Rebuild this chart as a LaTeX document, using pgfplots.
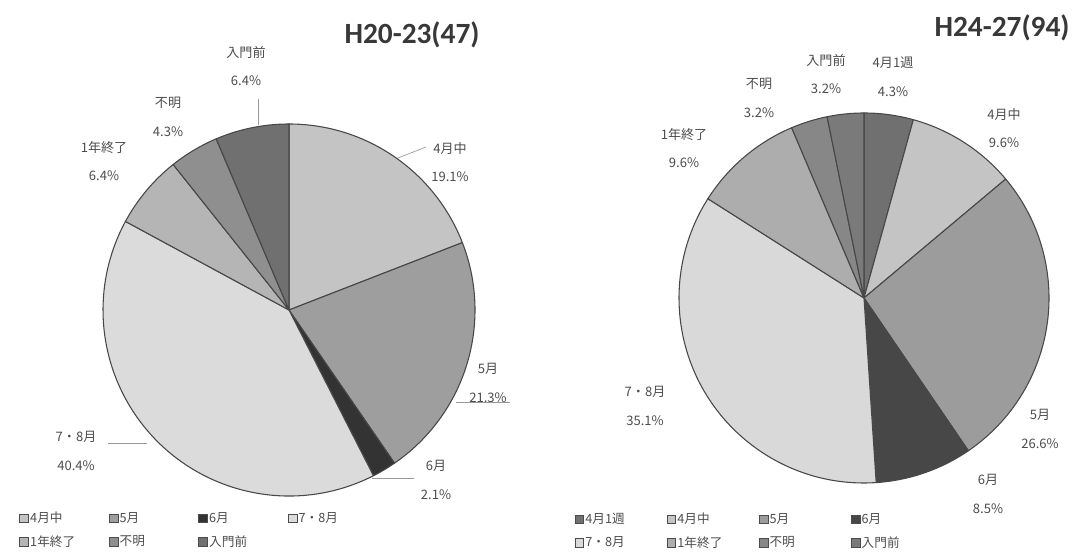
\documentclass[border=0pt]{standalone}
\usepackage{fontspec}
\setmainfont{Noto Sans CJK JP}
\newfontfamily\titlefont{Carlito}
\usepackage{pgfplots}
\usepackage{pgfplotstable}
\pgfplotsset{compat=1.18}

% H20-23 (47): 4月中, 5月, 6月, 7・8月, 1年終了, 不明, 入門前
\pgfplotstableread{
pct shade
19.1 23
21.3 38
2.1 80
40.4 14
6.4 29
4.3 44
6.4 56
}\tblA
% H24-27 (94): 4月1週, 4月中, 5月, 6月, 7・8月, 1年終了, 不明, 入門前
\pgfplotstableread{
pct shade
4.3 56
9.6 23
26.6 39
8.5 72
35.1 15
9.6 32
3.2 47
3.2 52
}\tblB

% #1 table, #2 cx, #3 cy, #4 radius (axis units; 1 unit = 0.75pt)
\newcommand\pieslices[4]{%
  \pgfplotstablegetrowsof{#1}%
  \pgfmathtruncatemacro\pieLast{\pgfplotsretval-1}%
  \def\pieTot{0}%
  \pgfplotsforeachungrouped \pieI in {0,...,\pieLast}{%
    \pgfplotstablegetelem{\pieI}{pct}\of{#1}%
    \pgfmathsetmacro\pieTot{\pieTot+\pgfplotsretval}}%
  \def\pieCum{0}%
  \pgfmathsetmacro\pieR{#4*0.75}%
  \pgfplotsforeachungrouped \pieI in {0,...,\pieLast}{%
    \pgfplotstablegetelem{\pieI}{pct}\of{#1}\let\pieV\pgfplotsretval
    \pgfplotstablegetelem{\pieI}{shade}\of{#1}\let\pieS\pgfplotsretval
    \pgfmathsetmacro\pieA{90-360*(\pieCum/\pieTot)}%
    \pgfmathsetmacro\pieCum{\pieCum+\pieV}%
    \pgfmathsetmacro\pieB{90-360*(\pieCum/\pieTot)}%
    \pgfmathsetmacro\pieX{#2+#4*cos(\pieA)}%
    \pgfmathsetmacro\pieY{#3+#4*sin(\pieA)}%
    \edef\pieTemp{\noexpand\filldraw[fill=black!\pieS, draw=black!72, line width=0.8pt, line join=round]
      (axis cs:#2,#3) -- (axis cs:\pieX,\pieY) arc[start angle=\pieA, end angle=\pieB, radius=\pieR pt] -- cycle;}%
    \pieTemp
  }%
}

\tikzset{
  lbl/.style={align=center, font=\fontsize{9.8}{21.5}\selectfont, text=black!70, inner sep=0pt},
  ttl/.style={font=\titlefont\bfseries\fontsize{22}{24}\selectfont, text=black!78, inner sep=0pt},
  lead/.style={draw=black!40, line width=0.5pt}
}
\pgfplotsset{pieax/.style={hide axis, clip=false, x=0.75pt, y=0.75pt, ymin=0, ymax=556,
  anchor=south west, legend columns=4, legend cell align=left,
  legend image code/.code={\draw[##1, line width=0.5pt] (0pt,-3.3pt) rectangle (6.6pt,3.3pt);},
  legend style={draw=none, fill=none, inner sep=0pt, outer sep=0pt, anchor=north west,
    font=\fontsize{9.5}{10}\selectfont, row sep=6pt, column sep=0pt,
    nodes={inner sep=1pt, text=black!70, align=left}}}}

\begin{document}
\begin{tikzpicture}
\path[use as bounding box] (0,0) rectangle (806.25pt,417pt);
\begin{axis}[pieax, xmin=0, xmax=540, at={(0pt,0pt)},
  legend style={at={(0.036,0.0815)}, nodes={text width=58pt}}]
\pieslices{\tblA}{289}{246}{186}
\addlegendimage{fill=black!23, draw=black!70}\addlegendentry{4月中}
\addlegendimage{fill=black!38, draw=black!70}\addlegendentry{5月}
\addlegendimage{fill=black!80, draw=black!70}\addlegendentry{6月}
\addlegendimage{fill=black!14, draw=black!70}\addlegendentry{7・8月}
\addlegendimage{fill=black!29, draw=black!70}\addlegendentry{1年終了}
\addlegendimage{fill=black!44, draw=black!70}\addlegendentry{不明}
\addlegendimage{fill=black!56, draw=black!70}\addlegendentry{入門前}
\node[ttl] at (axis cs:412,521) {H20-23(47)};
\node[lbl] at (axis cs:246,490) {入門前\\6.4\%};
\node[lbl] at (axis cs:168,439) {不明\\4.3\%};
\node[lbl] at (axis cs:104,395) {1年終了\\6.4\%};
\node[lbl] at (axis cs:450,394) {4月中\\19.1\%};
\node[lbl] at (axis cs:488,173) {5月\\21.3\%};
\node[lbl] at (axis cs:436,76) {6月\\2.1\%};
\node[lbl] at (axis cs:76,105) {7・8月\\40.4\%};
\draw[lead] (axis cs:258,457) -- (axis cs:258,431);
\draw[lead] (axis cs:398,398) -- (axis cs:426,409);
\draw[lead] (axis cs:456,154) -- (axis cs:510,154);
\draw[lead] (axis cs:372,78) -- (axis cs:414,78);
\draw[lead] (axis cs:108,113) -- (axis cs:147,113);
\end{axis}
\begin{axis}[pieax, xmin=540, xmax=1075, at={(405pt,0pt)},
  legend style={at={(0.0645,0.0797)}, nodes={text width=60pt}}]
\pieslices{\tblB}{864}{258}{185}
\addlegendimage{fill=black!56, draw=black!70}\addlegendentry{4月1週}
\addlegendimage{fill=black!23, draw=black!70}\addlegendentry{4月中}
\addlegendimage{fill=black!39, draw=black!70}\addlegendentry{5月}
\addlegendimage{fill=black!72, draw=black!70}\addlegendentry{6月}
\addlegendimage{fill=black!15, draw=black!70}\addlegendentry{7・8月}
\addlegendimage{fill=black!32, draw=black!70}\addlegendentry{1年終了}
\addlegendimage{fill=black!47, draw=black!70}\addlegendentry{不明}
\addlegendimage{fill=black!52, draw=black!70}\addlegendentry{入門前}
\node[ttl] at (axis cs:1002,528) {H24-27(94)};
\node[lbl] at (axis cs:826,482) {入門前\\3.2\%};
\node[lbl] at (axis cs:893,479) {4月1週\\4.3\%};
\node[lbl] at (axis cs:759,458) {不明\\3.2\%};
\node[lbl] at (axis cs:684,408) {1年終了\\9.6\%};
\node[lbl] at (axis cs:1004,428) {4月中\\9.6\%};
\node[lbl] at (axis cs:1040,127) {5月\\26.6\%};
\node[lbl] at (axis cs:988,62) {6月\\8.5\%};
\node[lbl] at (axis cs:645,150) {7・8月\\35.1\%};
\end{axis}
\end{tikzpicture}
\end{document}
